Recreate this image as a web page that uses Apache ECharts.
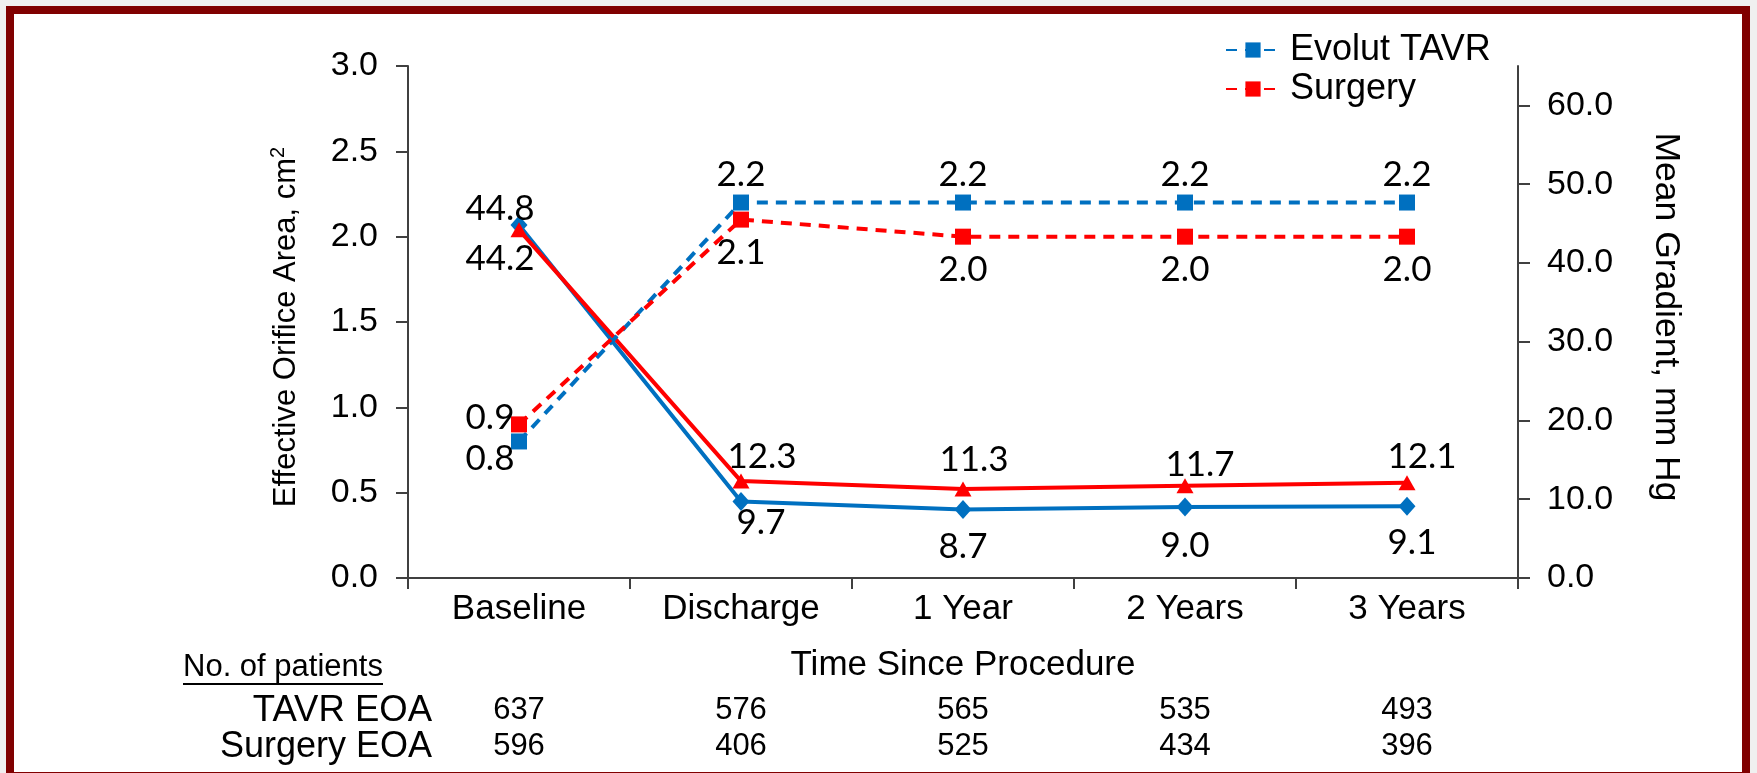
<!DOCTYPE html>
<html><head><meta charset="utf-8">
<script src="https://cdn.jsdelivr.net/npm/echarts@6/dist/echarts.min.js"></script>
<style>html,body{margin:0;padding:0;background:#f0f0f0}#c{width:1757px;height:773px}</style>
</head><body><div id="c"></div>
<script>
const categories = ['Baseline', 'Discharge', '1 Year', '2 Years', '3 Years'];
const tavrEOA = [0.8, 2.2, 2.2, 2.2, 2.2];
const surgeryEOA = [0.9, 2.1, 2.0, 2.0, 2.0];
const tavrGradient = [44.8, 9.7, 8.7, 9.0, 9.1];
const surgeryGradient = [44.2, 12.3, 11.3, 11.7, 12.1];
const tavrPatients = [637, 576, 565, 535, 493];
const surgeryPatients = [596, 406, 525, 434, 396];
const eoaTicks = [0, 0.5, 1.0, 1.5, 2.0, 2.5, 3.0];
const gradientTicks = [0, 10, 20, 30, 40, 50, 60];

// label offsets (style only)
const offTavrEOA = [[-29, 17], [0, -28], [0, -28], [0, -28], [0, -28]];
const offSurgEOA = [[-29, -7], [0, 33], [0, 33], [0, 33], [0, 33]];
const offTavrGrad = [[-19, -16], [20, 21], [0, 37], [0, 39], [5, 36]];
const offSurgGrad = [[-19, 29], [21, -24], [11, -29], [15, -21], [15, -26]];

const BLUE = '#0070C0', RED = '#FF0000';
const AX = 'Liberation Sans, Arial, sans-serif';
const LBL = 'Lato, sans-serif';

function items(vals, offs) {
  return vals.map((v, i) => ({ value: v, label: { offset: offs[i] } }));
}
const labelCfg = {
  show: true, position: 'inside', fontFamily: LBL, fontSize: 35, color: '#000',
  formatter: p => Number(p.value).toFixed(1)
};
const axisLineCfg = { show: true, lineStyle: { color: '#404040', width: 2 } };

const chart = echarts.init(document.getElementById('c'));
chart.setOption({
  backgroundColor: '#f0f0f0',
  animation: false,
  graphic: [
    { type: 'rect', z: -10, shape: { x: 10, y: 10, width: 1736, height: 766 },
      style: { fill: '#ffffff', stroke: '#800000', lineWidth: 8 } },
    { type: 'text', left: 183, top: 652, style: { text: 'No. of patients', font: '31px ' + AX, fill: '#000' } },
    { type: 'line', shape: { x1: 183, y1: 684, x2: 383, y2: 684 }, style: { stroke: '#000', lineWidth: 2 } },
    { type: 'text', x: 432, y: 711, style: { text: 'TAVR EOA', font: '36.5px ' + AX, fill: '#000', textAlign: 'right', textVerticalAlign: 'middle' } },
    { type: 'text', x: 432, y: 747, style: { text: 'Surgery EOA', font: '36px ' + AX, fill: '#000', textAlign: 'right', textVerticalAlign: 'middle' } }
  ],
  grid: { left: 408, right: 239, top: 66, bottom: 195, containLabel: false },
  legend: {
    data: ['Evolut TAVR', 'Surgery'],
    orient: 'vertical', left: 1225, top: 32, padding: 0, itemWidth: 54, itemHeight: 19, itemGap: 3,
    textStyle: { fontFamily: AX, fontSize: 36, color: '#000', lineHeight: 36, padding: [0, 0, 0, 5] }
  },
  xAxis: [
    { type: 'category', data: categories, boundaryGap: true,
      axisLine: axisLineCfg,
      axisTick: { show: true, length: 11, lineStyle: { color: '#404040', width: 2 } },
      axisLabel: { fontFamily: AX, fontSize: 35, color: '#000', margin: 14 },
      name: 'Time Since Procedure', nameLocation: 'middle', nameGap: 70,
      nameTextStyle: { fontFamily: AX, fontSize: 35, color: '#000' },
      splitLine: { show: false } },
    { type: 'category', data: tavrPatients.map(String), position: 'bottom', boundaryGap: true,
      axisLine: { show: false }, axisTick: { show: false },
      axisLabel: { fontFamily: AX, fontSize: 31, color: '#000', margin: 117 } },
    { type: 'category', data: surgeryPatients.map(String), position: 'bottom', boundaryGap: true,
      axisLine: { show: false }, axisTick: { show: false },
      axisLabel: { fontFamily: AX, fontSize: 31, color: '#000', margin: 153 } }
  ],
  yAxis: [
    { type: 'value', min: 0, max: 3, interval: 0.5, position: 'left',
      axisLine: axisLineCfg,
      axisTick: { show: true, length: 12, lineStyle: { color: '#404040', width: 2 } },
      axisLabel: { fontFamily: AX, fontSize: 34, color: '#000', margin: 30,
        customValues: eoaTicks, formatter: v => v.toFixed(1) },
      splitLine: { show: false },
      name: '{n|Effective Orifice Area, cm}{s|2}', nameLocation: 'middle', nameGap: 104, nameRotate: 90,
      nameTextStyle: { fontFamily: AX, fontSize: 31, color: '#000', padding: [0, 10, 0, 0],
        rich: { n: { fontFamily: AX, fontSize: 31, color: '#000', lineHeight: 36 },
                s: { fontFamily: AX, fontSize: 20, color: '#000', verticalAlign: 'top', lineHeight: 36 } } } },
    { type: 'value', min: 0, max: 65, position: 'right',
      axisLine: axisLineCfg,
      axisTick: { show: true, length: 12, customValues: gradientTicks, lineStyle: { color: '#404040', width: 2 } },
      axisLabel: { fontFamily: AX, fontSize: 34, color: '#000', margin: 29,
        customValues: gradientTicks, formatter: v => v.toFixed(1) },
      splitLine: { show: false },
      name: 'Mean Gradient, mm Hg', nameLocation: 'middle', nameGap: 130, nameRotate: -90,
      nameTextStyle: { fontFamily: AX, fontSize: 35.5, color: '#000', padding: [0, 10, 0, 0] } }
  ],
  series: [
    { name: 'Evolut TAVR gradient', type: 'line', yAxisIndex: 1, data: items(tavrGradient, offTavrGrad),
      symbol: 'diamond', symbolSize: [17, 19], itemStyle: { color: BLUE },
      lineStyle: { color: BLUE, width: 4 }, label: labelCfg, z: 3 },
    { name: 'Surgery gradient', type: 'line', yAxisIndex: 1, data: items(surgeryGradient, offSurgGrad),
      symbol: 'triangle', symbolSize: [17, 15], itemStyle: { color: RED },
      lineStyle: { color: RED, width: 4 }, label: labelCfg, z: 4 },
    { name: 'Evolut TAVR', type: 'line', yAxisIndex: 0, data: items(tavrEOA, offTavrEOA),
      symbol: 'rect', symbolSize: 16, itemStyle: { color: BLUE },
      lineStyle: { color: BLUE, width: 4, type: [11, 8] }, label: labelCfg, z: 5 },
    { name: 'Surgery', type: 'line', yAxisIndex: 0, data: items(surgeryEOA, offSurgEOA),
      symbol: 'rect', symbolSize: 16, itemStyle: { color: RED },
      lineStyle: { color: RED, width: 4, type: [11, 8] }, label: labelCfg, z: 5 }
  ]
});
</script></body></html>
